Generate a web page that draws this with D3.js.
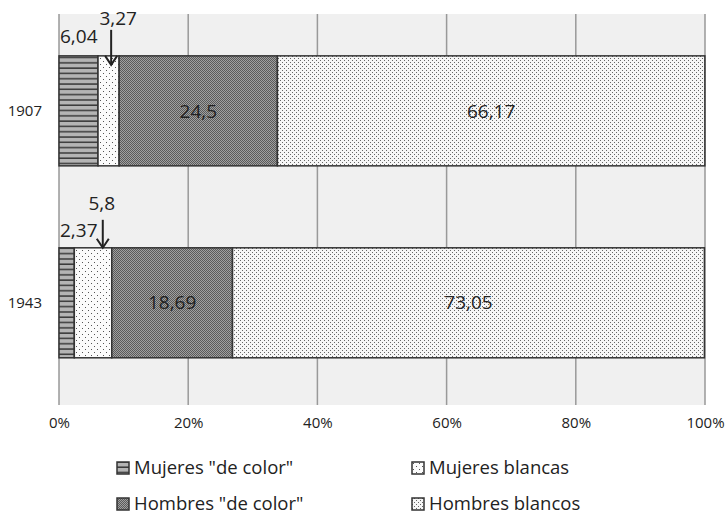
<!DOCTYPE html>
<html>
<head>
<meta charset="utf-8">
<script src="https://cdn.jsdelivr.net/npm/d3@7"></script>
<style>
body { margin: 0; background: #fff; }
svg text { font-family: "Open Sans", "Liberation Sans", sans-serif; fill: #222; }
</style>
</head>
<body>
<div id="chart"></div>
<script>
var years = ["1907", "1943"]
var groups = ['Mujeres "de color"', "Mujeres blancas", 'Hombres "de color"', "Hombres blancos"]
var values1907 = [6.04, 3.27, 24.5, 66.17]
var values1943 = [2.37, 5.8, 18.69, 73.05]
var labels1907 = ["6,04", "3,27", "24,5", "66,17"]
var labels1943 = ["2,37", "5,8", "18,69", "73,05"]
var ticks = [0, 20, 40, 60, 80, 100]

var svg = d3.select("#chart").append("svg").attr("width", 727).attr("height", 517)
var defs = svg.append("defs")

// pattern fills
var p1 = defs.append("pattern").attr("id", "pat0").attr("width", 6).attr("height", 5.3)
    .attr("patternUnits", "userSpaceOnUse")
p1.append("rect").attr("width", 6).attr("height", 5.3).attr("fill", "#b4b4b4")
p1.append("rect").attr("y", 3.8).attr("width", 6).attr("height", 1.5).attr("fill", "#3a3a3a")

var p2 = defs.append("pattern").attr("id", "pat1").attr("width", 6).attr("height", 6)
    .attr("patternUnits", "userSpaceOnUse")
p2.append("rect").attr("width", 6).attr("height", 6).attr("fill", "#fbfbfb")
p2.append("rect").attr("x", 1).attr("y", 1).attr("width", 1).attr("height", 1).attr("fill", "#555")
p2.append("rect").attr("x", 4).attr("y", 4).attr("width", 1).attr("height", 1).attr("fill", "#555")

var p3 = defs.append("pattern").attr("id", "pat2").attr("width", 2).attr("height", 2)
    .attr("patternUnits", "userSpaceOnUse")
p3.append("rect").attr("width", 2).attr("height", 2).attr("fill", "#a0a0a0")
p3.append("rect").attr("width", 1).attr("height", 1).attr("fill", "#5a5a5a")
p3.append("rect").attr("x", 1).attr("y", 1).attr("width", 1).attr("height", 1).attr("fill", "#5a5a5a")

var p4 = defs.append("pattern").attr("id", "pat3").attr("width", 4).attr("height", 4)
    .attr("patternUnits", "userSpaceOnUse")
p4.append("rect").attr("width", 4).attr("height", 4).attr("fill", "#f6f6f6")
p4.append("rect").attr("x", 0).attr("y", 0).attr("width", 1).attr("height", 1).attr("fill", "#666")
p4.append("rect").attr("x", 2).attr("y", 2).attr("width", 1).attr("height", 1).attr("fill", "#666")

var plotLeft = 59, plotRight = 705, plotTop = 14, plotBottom = 405

var x = d3.scaleLinear().domain([0, 100]).range([plotLeft, plotRight])
var y = d3.scaleBand().domain(years).range([plotTop, plotBottom])
    .paddingInner(0.427).paddingOuter(0.232).align(0.47)

svg.append("rect").attr("x", plotLeft).attr("y", plotTop)
    .attr("width", plotRight - plotLeft).attr("height", plotBottom - plotTop)
    .attr("fill", "#f0f0f0")

svg.append("g").selectAll("line").data(ticks).join("line")
    .attr("x1", d => x(d)).attr("x2", d => x(d))
    .attr("y1", plotTop).attr("y2", plotBottom)
    .attr("stroke", "#999").attr("stroke-width", 1.5)

var axis = svg.append("g").attr("transform", "translate(0," + plotBottom + ")")
    .call(d3.axisBottom(x).tickValues(ticks).tickFormat(d => d + "%").tickSize(0).tickPadding(12))
axis.select(".domain").remove()
axis.selectAll("text").style("font-size", "15px").attr("fill", "#222")

svg.append("g").selectAll("text").data(years).join("text")
    .attr("x", 42).attr("y", d => y(d) + y.bandwidth() / 2)
    .attr("text-anchor", "end").attr("dy", "0.35em")
    .style("font-size", "15px").text(d => d)

function stackRow(vals, labs, year) {
    var cum = 0
    return vals.map(function(v, i) {
        var r = {year: year, i: i, x0: cum, x1: cum + v, label: labs[i]}
        cum += v
        return r
    })
}
var rows = stackRow(values1907, labels1907, "1907").concat(stackRow(values1943, labels1943, "1943"))

svg.append("g").selectAll("rect").data(rows).join("rect")
    .attr("x", d => x(d.x0)).attr("width", d => x(d.x1) - x(d.x0))
    .attr("y", d => y(d.year)).attr("height", y.bandwidth())
    .attr("fill", d => "url(#pat" + d.i + ")")
    .attr("stroke", "#333").attr("stroke-width", 1.5)

// labels inside big segments
svg.append("g").selectAll("text").data(rows.filter(d => d.i >= 2)).join("text")
    .attr("x", d => x((d.x0 + d.x1) / 2)).attr("y", d => y(d.year) + y.bandwidth() / 2)
    .attr("text-anchor", "middle").attr("dy", "0.35em")
    .style("font-size", "19px").attr("fill", "#333").text(d => d.label)

// small segment labels above the bar (callout offsets per year)
var callout = {
    "1907": {firstDy: -13, secondDx: -1, secondDy: -31, arrowDx: -8, arrowTop: -26, arrowTip: 9},
    "1943": {firstDy: -11, secondDx: -10, secondDy: -38, arrowDx: -9, arrowTop: -28, arrowTip: 0}
}
var first = rows.filter(d => d.i == 0)
svg.append("g").selectAll("text").data(first).join("text")
    .attr("x", d => x(0) + 1).attr("y", d => y(d.year) + callout[d.year].firstDy)
    .style("font-size", "19px").text(d => d.label)

var second = rows.filter(d => d.i == 1)
svg.append("g").selectAll("text").data(second).join("text")
    .attr("x", d => x(d.x1) + callout[d.year].secondDx).attr("y", d => y(d.year) + callout[d.year].secondDy)
    .attr("text-anchor", "middle")
    .style("font-size", "19px").text(d => d.label)

var arrows = svg.append("g").selectAll("g").data(second).join("g")
arrows.append("line")
    .attr("x1", d => x(d.x1) + callout[d.year].arrowDx).attr("x2", d => x(d.x1) + callout[d.year].arrowDx)
    .attr("y1", d => y(d.year) + callout[d.year].arrowTop).attr("y2", d => y(d.year) + callout[d.year].arrowTip - 1)
    .attr("stroke", "#222").attr("stroke-width", 2)
arrows.append("path")
    .attr("d", function(d) {
        var cx = x(d.x1) + callout[d.year].arrowDx, cy = y(d.year) + callout[d.year].arrowTip
        return "M" + (cx - 6) + "," + (cy - 9) + "L" + cx + "," + cy + "L" + (cx + 6) + "," + (cy - 9)
    })
    .attr("fill", "none").attr("stroke", "#222").attr("stroke-width", 2)

// legend
var legendPos = [[117, 468], [412, 468], [117, 504], [412, 504]]
var legend = svg.append("g").selectAll("g").data(groups).join("g")
    .attr("transform", (d, i) => "translate(" + legendPos[i][0] + "," + legendPos[i][1] + ")")
legend.append("rect").attr("x", 0).attr("y", -6).attr("width", 12).attr("height", 12)
    .attr("fill", (d, i) => "url(#pat" + i + ")").attr("stroke", "#333").attr("stroke-width", 1.5)
legend.append("text").attr("x", 17).attr("dy", "0.35em").style("font-size", "18.5px").text(d => d)
</script>
</body>
</html>
